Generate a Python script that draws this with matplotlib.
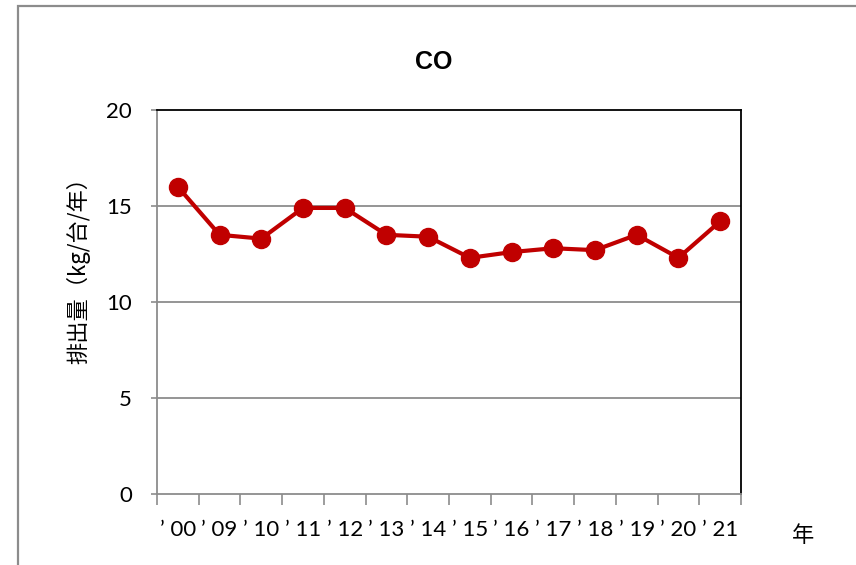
import matplotlib
matplotlib.use('Agg')
import matplotlib.pyplot as plt
from matplotlib.patches import Rectangle

# データ
years = ['00', '09', '10', '11', '12', '13', '14', '15', '16', '17', '18', '19', '20', '21']
co = [16.0, 13.5, 13.3, 14.9, 14.9, 13.5, 13.4, 12.3, 12.6, 12.8, 12.7, 13.5, 12.3, 14.2]
yticks = [0, 5, 10, 15, 20]

jp = ['Noto Sans CJK JP', 'DejaVu Sans']
num = ['Lato', 'DejaVu Sans']

fig = plt.figure(figsize=(8.56, 5.65), dpi=100)
ax = fig.add_axes([157/856, 71/565, 584/856, 384/565])

# 外枠 (右と下は画像の外まで)
fig.patches.append(Rectangle((18/856, -0.1), 1.2, 1.1 - 6/565, transform=fig.transFigure,
                             fill=False, edgecolor='#8c8c8c', linewidth=1.6))

x = list(range(len(years)))
ax.plot(x, co, color='#C00000', linewidth=3, marker='o', markersize=13, zorder=3)

ax.set_xlim(-0.5, len(years) - 0.5)
ax.set_ylim(0, 20)
ax.set_yticks(yticks)
ax.set_yticklabels([str(v) for v in yticks], family=num, fontsize=16)
ax.set_xticks(x)
ax.set_xticklabels(['\u2019 ' + y for y in years], family=num, fontsize=16)
ax.set_xticks([i - 0.5 for i in range(len(years) + 1)], minor=True)
ax.tick_params(axis='x', which='major', length=0, pad=19)
ax.tick_params(axis='x', which='minor', length=8, width=1.2, color='#8c8c8c')
ax.tick_params(axis='y', length=4, width=1.2, color='#8c8c8c', pad=14)

for v in yticks[1:-1]:
    ax.axhline(v, color='#8c8c8c', linewidth=1.3, zorder=1)

for s in ['left', 'bottom']:
    ax.spines[s].set_color('#8c8c8c')
    ax.spines[s].set_linewidth(1.3)
for s in ['top', 'right']:
    ax.spines[s].set_color('black')
    ax.spines[s].set_linewidth(1.3)

fig.text(434/856, 1 - 62/565, 'CO', family=['Liberation Sans'], fontsize=18,
         fontweight='bold', ha='center', va='center')
ax.set_ylabel('排出量（kg/台/年）', family=jp, fontsize=16)
ax.yaxis.set_label_coords((90 - 157) / 584, (494 - 265) / 384)
fig.text(803/856, 1 - 535/565, '年', family=jp, fontsize=16, ha='center', va='center')

fig.savefig('out.png', dpi=100)
